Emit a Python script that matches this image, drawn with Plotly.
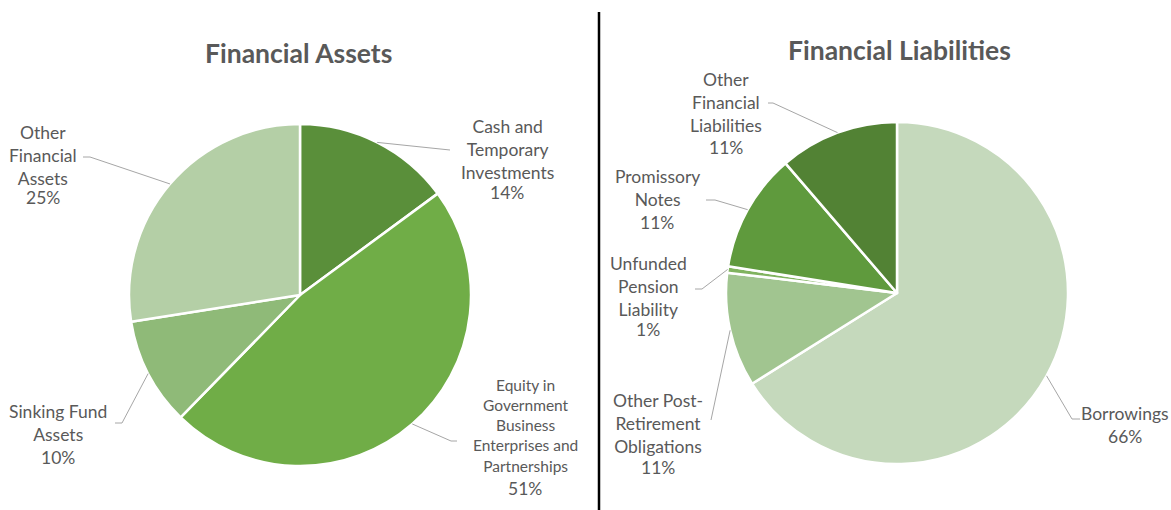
import math
import plotly.graph_objects as go

W, H = 1171, 510

# ---- data ----
# Financial assets: slice sizes as drawn, printed labels as shown in the source
asset_names = ["Cash and<br>Temporary<br>Investments",
               "Equity in<br>Government<br>Business<br>Enterprises and<br>Partnerships",
               "Sinking Fund<br>Assets",
               "Other<br>Financial<br>Assets"]
asset_share = [14.9, 47.4, 10.2, 27.5]
asset_pct = ["14%", "51%", "10%", "25%"]

# Financial liabilities
liab_names = ["Borrowings",
              "Other Post-<br>Retirement<br>Obligations",
              "Unfunded<br>Pension<br>Liability",
              "Promissory<br>Notes",
              "Other<br>Financial<br>Liabilities"]
liab_share = [66.1, 10.8, 0.6, 11.2, 11.3]
liab_pct = ["66%", "11%", "1%", "11%", "11%"]

# ---- styling / layout (pixels) ----
asset_colors = ["#5A8F3A", "#70AD47", "#8FBA78", "#B4CFA6"]
liab_colors = ["#C5D9BC", "#A1C590", "#80B35F", "#5F9A3D", "#528234"]
TEXT = "#595959"
LEADER = "#A6A6A6"
FONT = "Lato"

asset_pie = dict(cx=300, cy=295, r=171)
liab_pie = dict(cx=897, cy=293, r=171)

# name centre, pct position, elbow, stub end, name font size
asset_lbl = [
    dict(name=(507, 149), pct=(507, 192), elbow=(450, 150), end=(450, 150), size=17.5),
    dict(name=(525, 425), pct=(525, 488), elbow=(451, 441), end=(457, 441), size=15.5),
    dict(name=(58, 422.5), pct=(58, 457), elbow=(122, 423), end=(115, 423), size=17.5),
    dict(name=(43, 155), pct=(43, 198), elbow=(90, 157), end=(83, 157), size=17.5),
]
liab_lbl = [
    dict(name=(1125, 413), pct=(1125, 436), elbow=(1072, 419), end=(1080, 419), size=17.5),
    dict(name=(658, 423), pct=(658, 467), elbow=(711, 420), end=(711, 420), size=17.5),
    dict(name=(648, 286), pct=(648, 329), elbow=(702, 289), end=(695, 289), size=17.5),
    dict(name=(657, 188), pct=(657, 222), elbow=(715, 200), end=(706, 200), size=17.5),
    dict(name=(726, 103), pct=(726, 147), elbow=(773, 103), end=(768, 103), size=17.5),
]


def fx(x):
    return x / W


def fy(y):
    return 1 - y / H


def domain(p):
    return dict(x=[fx(p["cx"] - p["r"]), fx(p["cx"] + p["r"])],
                y=[fy(p["cy"] + p["r"]), fy(p["cy"] - p["r"])])


def mid_points(shares, p):
    # point on the rim at the middle of each slice (clockwise from 12 o'clock)
    total = sum(shares)
    pts, cum = [], 0
    for s in shares:
        a = 2 * math.pi * (cum + s / 2) / total
        pts.append((p["cx"] + p["r"] * math.sin(a), p["cy"] - p["r"] * math.cos(a)))
        cum += s
    return pts


fig = go.Figure()

for names, shares, colors, p in [(asset_names, asset_share, asset_colors, asset_pie),
                                 (liab_names, liab_share, liab_colors, liab_pie)]:
    fig.add_trace(go.Pie(
        labels=[n.replace("<br>", " ") for n in names],
        values=shares,
        sort=False,
        direction="clockwise",
        rotation=0,
        textinfo="none",
        marker=dict(colors=colors, line=dict(color="white", width=2.5)),
        domain=domain(p),
        showlegend=False,
    ))

annotations, shapes = [], []
for names, pcts, shares, lbls, p in [(asset_names, asset_pct, asset_share, asset_lbl, asset_pie),
                                     (liab_names, liab_pct, liab_share, liab_lbl, liab_pie)]:
    anchors = mid_points(shares, p)
    for name, pct, lb, (ax, ay) in zip(names, pcts, lbls, anchors):
        annotations.append(dict(text=name, x=fx(lb["name"][0]), y=fy(lb["name"][1]),
                                xref="paper", yref="paper", showarrow=False,
                                xanchor="center", yanchor="middle",
                                font=dict(family=FONT, size=lb["size"], color=TEXT)))
        annotations.append(dict(text=pct, x=fx(lb["pct"][0]), y=fy(lb["pct"][1]),
                                xref="paper", yref="paper", showarrow=False,
                                xanchor="center", yanchor="middle",
                                font=dict(family=FONT, size=17.5, color=TEXT)))
        ex, ey = lb["elbow"]
        sx, sy = lb["end"]
        path = "M {},{} L {},{} L {},{}".format(fx(ax), fy(ay), fx(ex), fy(ey), fx(sx), fy(sy))
        shapes.append(dict(type="path", path=path, xref="paper", yref="paper",
                           line=dict(color=LEADER, width=1)))

# chart titles
for title, x, y in [("Financial Assets", 298.5, 53), ("Financial Liabilities", 899, 50)]:
    annotations.append(dict(text="<b>" + title + "</b>", x=fx(x), y=fy(y),
                            xref="paper", yref="paper", showarrow=False,
                            xanchor="center", yanchor="middle",
                            font=dict(family=FONT, size=26.5, color=TEXT)))

# divider between the two charts
shapes.append(dict(type="line", x0=fx(599), x1=fx(599), y0=fy(12), y1=fy(510),
                   xref="paper", yref="paper", line=dict(color="black", width=2.5)))

fig.update_layout(
    width=W, height=H,
    margin=dict(l=0, r=0, t=0, b=0),
    paper_bgcolor="white",
    plot_bgcolor="white",
    annotations=annotations,
    shapes=shapes,
)

# drop the browser's default 8px page margin so the figure fills the window
fig.write_html("out.html", config={"displayModeBar": False},
               post_script="document.body.style.margin='0px';")
